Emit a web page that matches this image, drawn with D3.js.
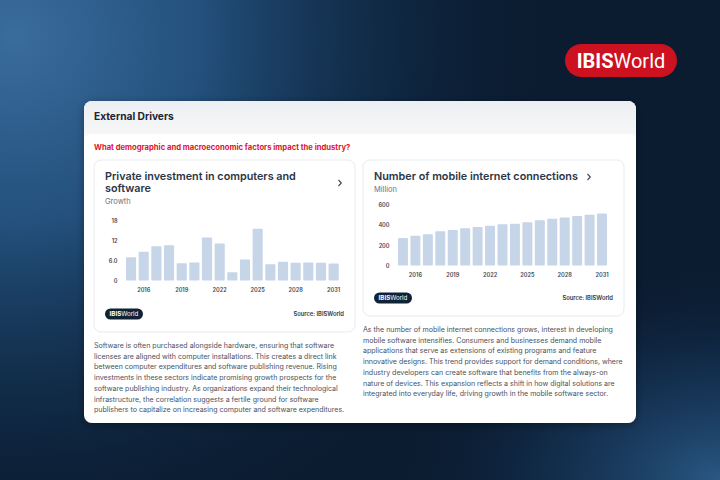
<!DOCTYPE html>
<html><head><meta charset="utf-8">
<script src="https://cdn.jsdelivr.net/npm/d3@7"></script>
<style>
html,body{margin:0;padding:0;background:#0b1c31;}
svg{display:block;font-family:Inter,"Noto Sans",sans-serif;}
</style></head>
<body>
<svg id="c" width="720" height="480"></svg>
<script>
// ---- data ----
const years = [2015,2016,2017,2018,2019,2020,2021,2022,2023,2024,2025,2026,2027,2028,2029,2030,2031];
const investmentGrowth = [7.0,8.6,10.3,10.6,5.2,5.4,12.9,11.1,2.5,6.3,15.5,4.9,5.6,5.3,5.4,5.3,5.1];
const mobileConnections = [273,296,310,340,353,370,383,393,410,413,430,450,463,476,490,503,516];
const xTickYears = [2016,2019,2022,2025,2028,2031];
const leftYTicks = [0,6,12,18];
const leftYTickLabels = ["0","6.0","12","18"];
const rightYTicks = [0,200,400,600];
const rightYTickLabels = ["0","200","400","600"];

const leftParagraph = [
"Software is often purchased alongside hardware, ensuring that software",
"licenses are aligned with computer installations. This creates a direct link",
"between computer expenditures and software publishing revenue. Rising",
"investments in these sectors indicate promising growth prospects for the",
"software publishing industry. As organizations expand their technological",
"infrastructure, the correlation suggests a fertile ground for software",
"publishers to capitalize on increasing computer and software expenditures."];
const rightParagraph = [
"As the number of mobile internet connections grows, interest in developing",
"mobile software intensifies. Consumers and businesses demand mobile",
"applications that serve as extensions of existing programs and feature",
"innovative designs. This trend provides support for demand conditions, where",
"industry developers can create software that benefits from the always-on",
"nature of devices. This expansion reflects a shift in how digital solutions are",
"integrated into everyday life, driving growth in the mobile software sector."];

const svg = d3.select("#c");
const defs = svg.append("defs");

// background
const g1 = defs.append("radialGradient").attr("id","glowTL").attr("cx",0.02).attr("cy",0.05).attr("r",0.75)
  .attr("gradientTransform","scale(1,1.5)");
g1.append("stop").attr("offset","0").attr("stop-color","#3a6c9c");
g1.append("stop").attr("offset","0.35").attr("stop-color","#23507c");
g1.append("stop").attr("offset","0.7").attr("stop-color","#12304f").attr("stop-opacity",0.6);
g1.append("stop").attr("offset","1").attr("stop-color","#0b1c31").attr("stop-opacity",0);
const g2 = defs.append("radialGradient").attr("id","glowBR").attr("cx",1).attr("cy",1).attr("r",0.45);
g2.append("stop").attr("offset","0").attr("stop-color","#2a5884");
g2.append("stop").attr("offset","0.5").attr("stop-color","#163659").attr("stop-opacity",0.7);
g2.append("stop").attr("offset","1").attr("stop-color","#0b1c31").attr("stop-opacity",0);
const hg = defs.append("linearGradient").attr("id","hdr").attr("x1",0).attr("y1",0).attr("x2",0).attr("y2",1);
hg.append("stop").attr("offset","0").attr("stop-color","#eceff2");
hg.append("stop").attr("offset","1").attr("stop-color","#f6f7f8");
const sh = defs.append("filter").attr("id","shadow").attr("x",-0.1).attr("y",-0.1).attr("width",1.2).attr("height",1.3);
sh.append("feDropShadow").attr("dx",0).attr("dy",2).attr("stdDeviation",4).attr("flood-color","#000").attr("flood-opacity",0.35);

svg.append("rect").attr("width",720).attr("height",480).attr("fill","#0b1c31");
svg.append("rect").attr("width",720).attr("height",480).attr("fill","url(#glowTL)");
svg.append("rect").attr("width",720).attr("height",480).attr("fill","url(#glowBR)");

// top logo
svg.append("rect").attr("x",565).attr("y",44).attr("width",112).attr("height",33).attr("rx",16.5).attr("fill","#cc1120");
const logo = svg.append("text").attr("x",621).attr("y",67.5).attr("text-anchor","middle").attr("fill","#fff")
  .style("font-size","20px").style("font-family","Roboto, Inter, sans-serif");
logo.append("tspan").attr("font-weight",700).text("IBIS");
logo.append("tspan").attr("font-weight",400).text("World");

// main card
svg.append("rect").attr("x",84).attr("y",101).attr("width",552).attr("height",322).attr("rx",8)
  .attr("fill","#fff").attr("filter","url(#shadow)");
svg.append("path").attr("d","M84,109 a8,8 0 0 1 8,-8 H628 a8,8 0 0 1 8,8 V136 H84 Z").attr("fill","url(#hdr)");
svg.append("rect").attr("x",84).attr("y",134).attr("width",552).attr("height",14).attr("rx",6).attr("fill","#fff");
svg.append("rect").attr("x",84).attr("y",140).attr("width",552).attr("height",20).attr("fill","#fff");

svg.append("text").attr("x",94).attr("y",120).attr("fill","#1c2533").attr("font-weight",700)
  .style("font-size","10.2px").text("External Drivers");
svg.append("text").attr("x",94).attr("y",150).attr("fill","#e0142d").attr("font-weight",700)
  .style("font-size","7.65px").text("What demographic and macroeconomic factors impact the industry?");

function panel(opt){
  const g = svg.append("g");
  g.append("rect").attr("x",opt.x).attr("y",opt.y).attr("width",opt.w).attr("height",opt.h).attr("rx",7)
    .attr("fill","#fff").attr("stroke","#e7eaee").attr("stroke-width",1);
  opt.title.forEach((t,i)=>{
    g.append("text").attr("x",opt.x+11).attr("y",opt.y+20.3+i*12).attr("fill","#2b3646").attr("font-weight",600)
      .style("font-size","10.8px").text(t);
  });
  g.append("path").attr("d",`M${opt.chevX},${opt.chevY-3} l2.8,3 l-2.8,3`).attr("fill","none").attr("stroke","#3b4657").attr("stroke-width",1.1);
  g.append("text").attr("x",opt.x+11).attr("y",opt.subY).attr("fill","#6b7380").style("font-size","7.5px").text(opt.sub);

  const x = d3.scaleBand().domain(years).range(opt.xr).paddingInner(0.2).paddingOuter(0);
  const y = d3.scaleLinear().domain(opt.dom).range(opt.yr);
  g.selectAll("rect.bar").data(opt.vals).join("rect").attr("class","bar")
    .attr("x",(d,i)=>x(years[i])).attr("width",x.bandwidth())
    .attr("y",d=>y(d)).attr("height",d=>y(0)-y(d)).attr("rx",0.8).attr("fill","#c6d5e8");

  const ya = d3.axisLeft(y).tickValues(opt.yt).tickFormat((d,i)=>opt.ytl[i]).tickSize(0).tickPadding(0);
  const yg = g.append("g").attr("transform",`translate(${opt.yAxisX},0)`).call(ya);
  yg.select(".domain").remove();
  yg.selectAll("text").attr("fill","#3d4654").style("font-size","5.6px").style("font-family","Inter, sans-serif").attr("font-weight",600);

  const xa = d3.axisBottom(x).tickValues(xTickYears).tickSize(0).tickPadding(0);
  const xg = g.append("g").attr("transform",`translate(0,${opt.xAxisY})`).call(xa);
  xg.select(".domain").remove();
  xg.selectAll("text").attr("fill","#3d4654").style("font-size","5.6px").style("font-family","Inter, sans-serif").attr("font-weight",600);

  // footer
  g.append("rect").attr("x",opt.x+11).attr("y",opt.footY-5.5).attr("width",38).attr("height",11).attr("rx",5.5).attr("fill","#0f2236");
  const pl = g.append("text").attr("x",opt.x+30).attr("y",opt.footY+2).attr("text-anchor","middle").attr("fill","#fff").style("font-size","6.2px");
  pl.append("tspan").attr("font-weight",700).text("IBIS");
  pl.append("tspan").attr("font-weight",400).text("World");
  g.append("text").attr("x",opt.x+opt.w-11).attr("y",opt.footY+2).attr("text-anchor","end").attr("fill","#2b3646")
    .attr("font-weight",600).style("font-size","5.8px").text("Source: IBISWorld");
}

panel({x:94,y:160,w:261,h:172,title:["Private investment in computers and","software"],chevX:338.5,chevY:183,
  sub:"Growth",subY:203.5,xr:[126,338.7],dom:[0,18],yr:[280.5,220.5],vals:investmentGrowth,yt:leftYTicks,ytl:leftYTickLabels,
  yAxisX:117.5,xAxisY:288.5,footY:314});
panel({x:363,y:160,w:261,h:156,title:["Number of mobile internet connections"],chevX:587.5,chevY:177,
  sub:"Million",subY:191.5,xr:[398,607],dom:[0,600],yr:[265.5,205],vals:mobileConnections,yt:rightYTicks,ytl:rightYTickLabels,
  yAxisX:389.5,xAxisY:273,footY:298});

function para(lines,x,y0){
  lines.forEach((t,i)=>{
    svg.append("text").attr("x",x).attr("y",y0+i*10.7).attr("fill","#4a5261").style("font-size","7.05px").text(t);
  });
}
para(leftParagraph,94,348);
para(rightParagraph,363,332);
</script>
</body></html>
